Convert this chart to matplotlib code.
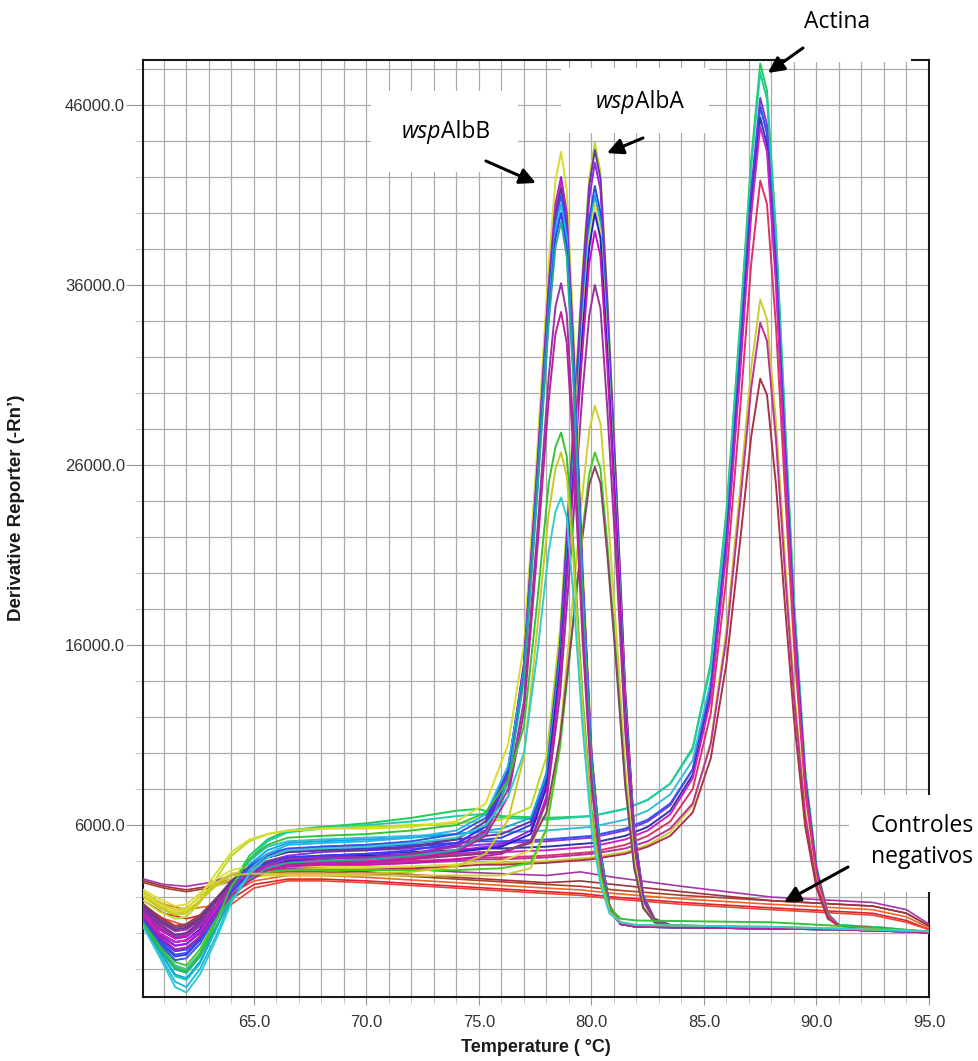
import numpy as np
import matplotlib.pyplot as plt
from matplotlib.patches import Rectangle
from matplotlib.ticker import FormatStrFormatter

plt.rcParams['font.family'] = ['Liberation Sans', 'DejaVu Sans']

# temperature grids (deg C) for each group of curves
temps_albb = [60.1, 60.8, 61.5, 62.0, 62.6, 63.3, 64.0, 64.8, 65.6, 66.5, 68.0, 70.0, 72.0, 74.0, 75.3,
              76.3, 77.0, 77.6, 78.1, 78.4, 78.65, 78.9, 79.2, 79.6, 80.0, 80.4, 80.8, 81.3, 82.0,
              85.0, 88.0, 91.0, 95.0]
temps_alba = [60.1, 60.8, 61.5, 62.0, 62.6, 63.3, 64.0, 64.8, 65.6, 66.5, 68.0, 70.0, 72.0, 74.0, 76.0,
              77.3, 78.0, 78.6, 79.1, 79.6, 79.9, 80.15, 80.4, 80.7, 81.1, 81.5, 81.9, 82.3, 82.8,
              83.5, 86.0, 89.0, 92.0, 95.0]
temps_actina = [60.1, 60.8, 61.5, 62.0, 62.6, 63.3, 64.0, 64.8, 65.6, 66.5, 68.0, 70.0, 72.0, 74.0, 75.0,
                76.0, 78.0, 80.0, 81.5, 82.5, 83.5, 84.5, 85.3, 86.0, 86.6, 87.1, 87.5, 87.8, 88.2,
                88.6, 89.0, 89.5, 90.0, 90.5, 91.0, 93.0, 95.0]
temps_ctrl = [60.1, 61.0, 62.0, 63.0, 64.0, 65.0, 66.5, 68.0, 70.0, 74.0, 78.0, 79.5, 81.0, 84.0, 88.0,
              92.5, 94.0, 95.0]

# derivative reporter (-Rn')
albb_curves = [
    [2200, 1600, 1200, 1300, 2100, 3300, 4500, 5200, 5500, 5700, 5800, 5800, 5900, 6200, 7200, 10500, 16000, 27000, 37200, 41800, 43400, 41300, 33600, 20700, 10300, 4600, 1600, 600, 400, 350, 300, 250, 100],
    [900, -100, -700, -600, 0, 1200, 2300, 3200, 3800, 4100, 4200, 4200, 4400, 4900, 6000, 9000, 15000, 26000, 36000, 40500, 42000, 40000, 32500, 20000, 10000, 4500, 1500, 500, 350, 300, 250, 200, 50],
    [1000, 0, -500, -400, 100, 1300, 2400, 3100, 3700, 3900, 4000, 4000, 4200, 4600, 5600, 8800, 14900, 25900, 35800, 40300, 41800, 39800, 32400, 19900, 9900, 4500, 1500, 500, 350, 300, 250, 200, 50],
    [1500, 700, 200, 300, 800, 1800, 2900, 3700, 4200, 4500, 4600, 4600, 4800, 5200, 6200, 9200, 14800, 25600, 35500, 39900, 41400, 39400, 32000, 19700, 9800, 4400, 1500, 500, 350, 300, 250, 200, 50],
    [600, -600, -1500, -1400, -600, 900, 2500, 3700, 4400, 4700, 4800, 4900, 5100, 5500, 6400, 9200, 14600, 25400, 35100, 39500, 41000, 39000, 31700, 19500, 9800, 4400, 1500, 500, 350, 300, 250, 200, 50],
    [400, -1200, -2700, -3000, -2000, -200, 1900, 3500, 4400, 4900, 5000, 5100, 5300, 5700, 6600, 9300, 14500, 25100, 34700, 39000, 40500, 38600, 31300, 19300, 9600, 4300, 1400, 500, 350, 300, 250, 200, 50],
    [800, -300, -1000, -900, -200, 1100, 2300, 3300, 3900, 4200, 4300, 4400, 4600, 5000, 5900, 8700, 14300, 24800, 34300, 38600, 40000, 38100, 31000, 19000, 9500, 4300, 1400, 500, 350, 300, 250, 200, 50],
    [300, -900, -2000, -2200, -1300, 300, 1900, 3000, 3600, 3900, 4000, 4100, 4300, 4600, 5500, 8400, 14100, 24500, 33900, 38100, 39500, 37600, 30600, 18800, 9400, 4200, 1400, 500, 350, 300, 250, 200, 50],
    [1200, 300, -200, -100, 400, 1500, 2600, 3300, 3800, 4100, 4200, 4200, 4400, 4800, 5700, 8000, 12900, 22400, 30900, 34800, 36100, 34400, 27900, 17200, 8600, 3900, 1300, 500, 350, 300, 250, 200, 50],
    [900, -200, -900, -800, -200, 1000, 2100, 2900, 3500, 3800, 3900, 3900, 4100, 4500, 5400, 7600, 12300, 21400, 29600, 33300, 34500, 32800, 26700, 16400, 8200, 3700, 1200, 500, 350, 300, 250, 200, 50],
    [500, -700, -1900, -2100, -1200, 600, 2600, 4100, 4900, 5300, 5400, 5500, 5700, 6000, 6700, 8500, 11500, 18500, 25000, 27000, 27800, 26500, 21500, 13200, 6900, 3300, 1400, 800, 700, 650, 600, 400, 100],
    [2000, 1400, 1000, 1100, 1800, 2700, 3200, 3300, 3300, 3300, 3300, 3300, 3400, 3700, 4400, 6300, 9800, 17000, 23300, 25800, 26700, 25400, 20700, 12700, 6400, 2900, 1200, 600, 450, 400, 350, 250, 100],
    [300, -1300, -3000, -3300, -2300, -400, 1700, 3300, 4200, 4600, 4700, 4800, 5000, 5300, 6000, 7600, 10000, 15600, 21200, 23400, 24200, 23100, 18700, 11500, 5800, 2700, 1100, 600, 450, 400, 350, 250, 100],
]
albb_colors = ['#d8dc2c', '#8a1fd8', '#cc22cc', '#663399', '#3355ee', '#22b8ee', '#3a3aff',
               '#20b090', '#9933aa', '#bb2299', '#33c433', '#c8c820', '#33cccc']

alba_curves = [
    [1800, 1200, 800, 900, 1700, 3000, 4300, 5100, 5500, 5700, 5800, 5900, 6000, 6100, 6300, 7000, 9800, 16800, 26500, 36800, 41900, 43900, 42300, 35500, 25000, 13600, 5800, 2100, 800, 450, 350, 300, 200, 50],
    [1300, 500, -100, 0, 600, 1700, 2800, 3700, 4300, 4600, 4800, 4900, 5000, 5200, 5500, 6200, 8900, 16000, 26000, 36300, 41500, 43500, 41900, 35200, 24800, 13500, 5700, 2100, 800, 450, 350, 300, 200, 50],
    [800, -300, -1000, -900, -200, 1100, 2200, 3100, 3700, 4000, 4200, 4300, 4400, 4600, 4900, 5700, 8400, 15700, 25400, 35600, 40800, 42800, 41300, 34600, 24400, 13200, 5600, 2000, 700, 400, 300, 250, 200, 50],
    [700, -500, -1300, -1200, -400, 1000, 2500, 3600, 4200, 4500, 4600, 4700, 4800, 5000, 5300, 6000, 8600, 15300, 24700, 34600, 39600, 41500, 40000, 33600, 23700, 12800, 5400, 2000, 700, 400, 300, 250, 200, 50],
    [400, -1000, -2300, -2500, -1600, 200, 2200, 3800, 4600, 5000, 5100, 5200, 5300, 5500, 5800, 6400, 8800, 15200, 24400, 34200, 39100, 41000, 39500, 33200, 23400, 12700, 5400, 2000, 700, 400, 300, 250, 200, 50],
    [2400, 1900, 1500, 1600, 2200, 3000, 3500, 3700, 3700, 3700, 3700, 3700, 3700, 3800, 4000, 4600, 7400, 14500, 23800, 33700, 38600, 40500, 39000, 32800, 23100, 12500, 5300, 1900, 700, 400, 300, 250, 200, 50],
    [1000, 0, -500, -400, 200, 1300, 2300, 3100, 3700, 4000, 4200, 4300, 4300, 4500, 4800, 5500, 8100, 14800, 23800, 33300, 38100, 40000, 38600, 32400, 22900, 12400, 5300, 1900, 700, 400, 300, 250, 200, 50],
    [1100, 200, -300, -200, 400, 1400, 2300, 3000, 3500, 3700, 3800, 3800, 3900, 4100, 4400, 5100, 7600, 14200, 23100, 32400, 37200, 39000, 37600, 31600, 22300, 12100, 5200, 1900, 700, 400, 300, 250, 200, 50],
    [1400, 600, 100, 200, 700, 1700, 2700, 3400, 3800, 3900, 4000, 4000, 4100, 4300, 4500, 5100, 7300, 13200, 21400, 30000, 34300, 36000, 34700, 29200, 20600, 11200, 4800, 1800, 700, 400, 300, 250, 200, 50],
    [2100, 1500, 1100, 1200, 1800, 2600, 3000, 3100, 3200, 3200, 3200, 3200, 3200, 3200, 3200, 3600, 5800, 11000, 17600, 24400, 27900, 29300, 28300, 23800, 16800, 9200, 4000, 1500, 600, 400, 300, 250, 200, 50],
    [600, -600, -1600, -1800, -900, 700, 2200, 3000, 3400, 3500, 3500, 3500, 3500, 3500, 3600, 3900, 5800, 10300, 16200, 22300, 25500, 26700, 25800, 21700, 15300, 8400, 3700, 1400, 600, 400, 300, 250, 200, 50],
    [1500, 800, 300, 400, 900, 1900, 2900, 3600, 4000, 4200, 4200, 4200, 4200, 4300, 4500, 5000, 6700, 10800, 16300, 22000, 24900, 25900, 25000, 21100, 14900, 8200, 3600, 1400, 600, 400, 300, 250, 200, 50],
]
alba_colors = ['#b8dc22', '#6633aa', '#9922dd', '#3344dd', '#11aadd', '#dddd44',
               '#2222cc', '#cc11bb', '#993399', '#cfcf30', '#44cc22', '#884466']

actina_curves = [
    [500, -800, -2000, -2200, -1300, 600, 2700, 4300, 5200, 5700, 5900, 6100, 6400, 6800, 6900, 6500, 6400, 6500, 6900, 7400, 8300, 10300, 15000, 23500, 33800, 43000, 48300, 46800, 39000, 28500, 18500, 9000, 3700, 1100, 450, 300, 50],
    [400, -1000, -2400, -2600, -1700, 200, 2400, 4100, 5100, 5600, 5800, 6000, 6200, 6500, 6600, 6400, 6300, 6500, 6900, 7400, 8300, 10200, 14800, 23200, 33400, 42600, 47800, 46300, 38600, 28200, 18300, 8900, 3600, 1100, 450, 300, 50],
    [600, -700, -1800, -2000, -1100, 600, 2600, 4000, 4800, 5100, 5200, 5300, 5400, 5500, 5600, 5600, 5700, 5900, 6300, 6800, 7700, 9600, 14000, 22300, 32200, 41000, 46000, 44500, 37000, 27000, 17500, 8500, 3500, 1000, 400, 250, 0],
    [900, -100, -700, -600, 0, 1200, 2400, 3400, 4000, 4300, 4500, 4600, 4700, 4800, 4900, 5000, 5100, 5300, 5700, 6200, 7100, 9100, 13600, 22000, 32200, 41300, 46400, 44900, 37300, 27200, 17600, 8600, 3500, 1000, 400, 250, 0],
    [700, -400, -1200, -1100, -300, 1000, 2500, 3600, 4200, 4500, 4700, 4800, 4900, 5000, 5100, 5100, 5200, 5400, 5800, 6300, 7200, 9100, 13500, 21800, 31900, 40900, 45900, 44400, 36900, 26900, 17400, 8500, 3500, 1000, 400, 250, 0],
    [1100, 200, -300, -200, 400, 1500, 2600, 3400, 3900, 4200, 4300, 4400, 4500, 4600, 4700, 4700, 4800, 5000, 5400, 5900, 6800, 8800, 13200, 21500, 31400, 40400, 45300, 43800, 36400, 26500, 17200, 8400, 3400, 1000, 400, 250, 0],
    [1000, 0, -500, -400, 200, 1300, 2300, 3200, 3700, 4000, 4100, 4200, 4300, 4400, 4500, 4500, 4600, 4800, 5200, 5700, 6600, 8600, 13000, 21200, 31000, 39900, 44800, 43400, 36000, 26200, 17000, 8300, 3400, 1000, 400, 250, 0],
    [1300, 400, -100, 0, 600, 1500, 2400, 3100, 3500, 3700, 3800, 3900, 4000, 4100, 4200, 4200, 4300, 4500, 4900, 5400, 6200, 8000, 12200, 19800, 29000, 37200, 41800, 40500, 33700, 24600, 16000, 7800, 3200, 1000, 400, 250, 0],
    [2300, 1700, 1300, 1400, 2000, 2800, 3300, 3500, 3600, 3600, 3600, 3600, 3700, 3800, 3900, 3900, 4000, 4200, 4500, 4900, 5600, 7100, 10600, 16900, 24600, 31400, 35200, 34100, 28400, 20800, 13600, 6700, 2800, 900, 400, 250, 0],
    [1200, 300, -200, -100, 500, 1400, 2300, 3000, 3400, 3600, 3700, 3800, 3900, 4000, 4100, 4100, 4200, 4400, 4700, 5100, 5800, 7200, 10500, 16400, 23800, 30300, 33900, 32900, 27400, 20000, 13100, 6500, 2700, 900, 400, 250, 0],
    [1600, 900, 400, 500, 1000, 1900, 2700, 3200, 3400, 3500, 3500, 3500, 3600, 3700, 3800, 3800, 3900, 4100, 4400, 4800, 5400, 6700, 9700, 15000, 21700, 27600, 30800, 29900, 24900, 18200, 11900, 5900, 2500, 800, 400, 250, 0],
]
actina_colors = ['#22cc55', '#22ccaa', '#33bbdd', '#8833dd', '#3355ee', '#3333aa',
                 '#cc22cc', '#dd3366', '#cccc33', '#bb3399', '#aa3344']

ctrl_curves = [
    [2200, 1600, 1300, 1500, 2200, 2900, 3200, 3200, 3100, 2800, 2500, 2400, 2200, 1900, 1600, 1300, 900, 300],
    [1800, 1100, 800, 1100, 1900, 2700, 3000, 3000, 2900, 2600, 2300, 2200, 2000, 1700, 1400, 1100, 700, 200],
    [2800, 2500, 2300, 2500, 2900, 3300, 3400, 3400, 3300, 3000, 2700, 2600, 2400, 2100, 1800, 1500, 1100, 400],
    [3000, 2700, 2600, 2800, 3200, 3600, 3800, 3800, 3700, 3400, 3200, 3400, 3100, 2600, 2000, 1700, 1300, 500],
    [2900, 2600, 2400, 2600, 3000, 3400, 3500, 3500, 3400, 3100, 2800, 2900, 2700, 2300, 1800, 1500, 1100, 400],
    [1500, 800, 400, 700, 1600, 2500, 2900, 2900, 2800, 2500, 2200, 2100, 1900, 1600, 1300, 1000, 600, 200],
]
ctrl_colors = ['#ee6622', '#dd2233', '#aa4422', '#aa33aa', '#993344', '#ee4433']

x_major = [65, 70, 75, 80, 85, 90, 95]
y_major = [6000, 16000, 26000, 36000, 46000]

fig = plt.figure(figsize=(9.79, 10.61), dpi=100)
ax = fig.add_axes([143 / 979, 1 - 997 / 1061, 786 / 979, 937 / 1061])

for vals, c in zip(ctrl_curves, ctrl_colors):
    ax.plot(temps_ctrl, vals, color=c, lw=1.2, zorder=3)
for vals, c in zip(actina_curves, actina_colors):
    ax.plot(temps_actina, vals, color=c, lw=1.4, zorder=3)
for vals, c in zip(alba_curves, alba_colors):
    ax.plot(temps_alba, vals, color=c, lw=1.4, zorder=3)
for vals, c in zip(albb_curves, albb_colors):
    ax.plot(temps_albb, vals, color=c, lw=1.4, zorder=3)

ax.set_xlim(60.07, 95.0)
ax.set_ylim(-3550, 48500)

ax.set_xticks(x_major)
ax.set_xticks(np.arange(61, 95, 1), minor=True)
ax.set_yticks(y_major)
ax.set_yticks(np.arange(-2000, 48001, 2000), minor=True)
ax.xaxis.set_major_formatter(FormatStrFormatter('%.1f'))
ax.yaxis.set_major_formatter(FormatStrFormatter('%.1f'))
ax.grid(which='both', color='#ababab', lw=0.9, zorder=1)
ax.set_axisbelow(True)

ax.tick_params(axis='x', which='major', length=6, color='#999999', labelsize=12,
               labelcolor='#333333', pad=7)
ax.tick_params(axis='x', which='minor', length=4.5, color='#bbbbbb')
ax.tick_params(axis='y', which='major', length=12, color='#999999', labelsize=12,
               labelcolor='#333333', pad=1)
ax.tick_params(axis='y', which='minor', length=6, color='#bbbbbb')
for s in ax.spines.values():
    s.set_linewidth(1.5)
    s.set_color('#1a1a1a')

ax.set_xlabel('Temperature ( °C)', fontsize=13, fontweight='bold', color='#1a1a1a')
ax.xaxis.set_label_coords(0.5, -0.045)
ax.set_ylabel('Derivative Reporter (-Rn’)', fontsize=13.5, fontweight='bold', color='#1a1a1a')
ax.yaxis.set_label_coords(-0.15, 0.522)

# white label boxes pasted over the plot
for (x0, x1, y0, y1) in [(70.2, 76.73, 42280, 46800), (78.64, 85.22, 44440, 48060),
                         (88.64, 94.2, 48380, 51830), (91.44, 97.3, 2280, 7670)]:
    ax.add_patch(Rectangle((x0, y0), x1 - x0, y1 - y0, facecolor='white', edgecolor='none',
                           zorder=6, clip_on=False))

lab = dict(family=['Open Sans', 'DejaVu Sans'], fontsize=16.5, color='black', zorder=8,
           clip_on=False, va='baseline')
ax.text(89.45, 50280, 'Actina', ha='left', **lab)
ax.text(81.95, 45830, 'wsp', ha='right', style='italic', **lab)
ax.text(81.95, 45830, 'AlbA', ha='left', **lab)
ax.text(73.3, 44170, 'wsp', ha='right', style='italic', **lab)
ax.text(73.3, 44170, 'AlbB', ha='left', **lab)
ax.text(92.42, 5610, 'Controles', ha='left', **lab)
ax.text(92.42, 3890, 'negativos', ha='left', **lab)

arrow = dict(arrowstyle='-|>', color='black', lw=2.2, mutation_scale=24, shrinkA=0, shrinkB=0)
for head, tail in [((87.84, 47780), (89.4, 49170)), ((80.69, 43330), (82.29, 44170)),
                   ((77.53, 41670), (75.31, 42890)), ((88.56, 1720), (91.4, 3670))]:
    ax.annotate('', xy=head, xytext=tail, arrowprops=arrow, annotation_clip=False, zorder=9)

fig.savefig('out.png', dpi=100, facecolor='white')
